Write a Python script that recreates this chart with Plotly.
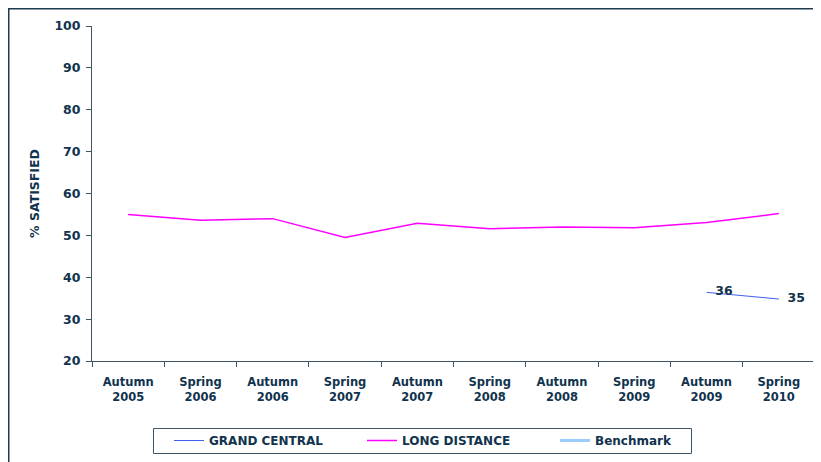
import plotly.graph_objects as go

categories = ["Autumn 2005", "Spring 2006", "Autumn 2006", "Spring 2007", "Autumn 2007",
              "Spring 2008", "Autumn 2008", "Spring 2009", "Autumn 2009", "Spring 2010"]
grand_central = [None, None, None, None, None, None, None, None, 36.4, 34.8]
long_distance = [55.0, 53.6, 54.0, 49.5, 52.9, 51.6, 52.0, 51.8, 53.1, 55.2]
benchmark = [None] * 10
y_ticks = [20, 30, 40, 50, 60, 70, 80, 90, 100]

x_labels = [c.replace(" ", "<br>") for c in categories]
navy = "#11334d"
font_family = "DejaVu Sans"

# page body has an 8px margin; the figure sits at (8, 8) in the window
W, H = 813, 454
L, R, T, B = 84, 6, 18, 101
pw = W - L - R
ph = H - T - B


def px_x(px):
    return (px - L) / pw


def px_y(py):
    return (T + ph - py) / ph


fig = go.Figure()
fig.add_trace(go.Scatter(
    x=x_labels, y=grand_central, name="GRAND CENTRAL", mode="lines+text",
    line=dict(color="#3f5ff0", width=1),
    text=["" if v is None else "\u00a0\u00a0" + f"{v:.0f}" for v in grand_central],
    textposition="middle right",
    textfont=dict(family=font_family, size=12.5, color=navy, weight="bold"),
))
fig.add_trace(go.Scatter(
    x=x_labels, y=long_distance, name="LONG DISTANCE", mode="lines",
    line=dict(color="#ff00ff", width=1.5),
))
fig.add_trace(go.Scatter(
    x=x_labels, y=benchmark, name="Benchmark", mode="lines",
    line=dict(color="#99ccff", width=3),
))

# outer frame
fig.add_shape(type="rect", xref="paper", yref="paper",
              x0=px_x(0.75), x1=px_x(830), y0=px_y(470), y1=px_y(0.75),
              line=dict(color="#1f3a4d", width=1.5), fillcolor="rgba(0,0,0,0)", layer="below")
# legend box
fig.add_shape(type="rect", xref="paper", yref="paper",
              x0=px_x(145.5), x1=px_x(683.5), y0=px_y(445.5), y1=px_y(420.5),
              line=dict(color="#3d5566", width=1), fillcolor="rgba(0,0,0,0)", layer="above")

fig.update_layout(
    width=W, height=H,
    margin=dict(l=L, r=R, t=T, b=B, autoexpand=False),
    paper_bgcolor="white", plot_bgcolor="white",
    font=dict(family=font_family, size=11.5, color=navy, weight="bold"),
    showlegend=True,
    legend=dict(
        orientation="h", x=px_x(161), xanchor="left", y=px_y(418), yanchor="top",
        borderwidth=0, bgcolor="rgba(0,0,0,0)",
        entrywidth=148, entrywidthmode="pixels",
        font=dict(family=font_family, size=12, color=navy, weight="bold"),
        traceorder="normal",
    ),
    xaxis=dict(
        type="category", range=[-0.5, 9.5], showgrid=False, showline=True,
        linecolor="#3d5566", linewidth=1, ticks="outside", ticklen=5, tickcolor="#3d5566",
        tickson="boundaries", ticklabelstandoff=10,
        tickfont=dict(family=font_family, size=11.5, color=navy, weight="bold"),
        fixedrange=True,
    ),
    yaxis=dict(
        range=[20, 100], tickvals=y_ticks, showgrid=False, showline=True, zeroline=False,
        linecolor="#3d5566", linewidth=1, ticks="outside", ticklen=5, tickcolor="#3d5566",
        ticklabelstandoff=3,
        tickfont=dict(family=font_family, size=12.5, color=navy, weight="bold"),
        title=dict(text="% SATISFIED", standoff=12,
                   font=dict(family=font_family, size=12.5, color=navy, weight="bold")),
        fixedrange=True,
    ),
)

fig.write_html("out.html")
